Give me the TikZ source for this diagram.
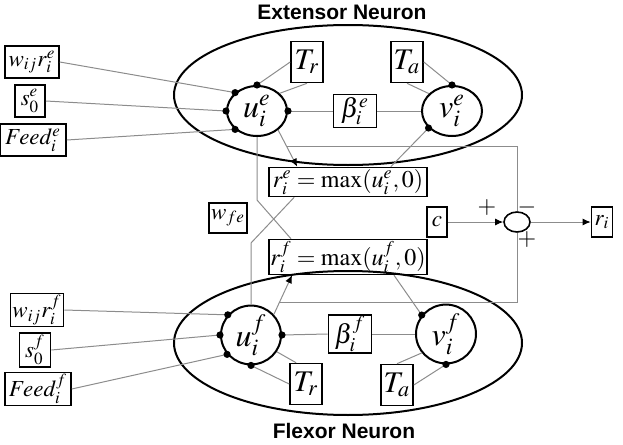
\documentclass[tikz,border=0pt]{standalone}
\usepackage{mathptmx}
\usepackage{fontspec}
\setmainfont{Liberation Serif}
\newfontfamily\titlefont{Liberation Sans}
\usepackage{tikz}
\usetikzlibrary{arrows.meta,shapes.geometric}
\tikzstyle{cell}=[ellipse,draw,line width=1pt,minimum width=174pt,inner sep=0pt]
\tikzstyle{neuron}=[ellipse,draw,line width=1pt,minimum width=30pt,minimum height=25pt,inner sep=0pt,font=\fontsize{16}{18}\selectfont]
\tikzstyle{param}=[rectangle,draw,line width=0.8pt,inner sep=0.8pt,minimum height=16pt,font=\fontsize{11.5}{13}\selectfont]
\tikzstyle{tbox}=[minimum width=16pt,minimum height=20.5pt,font=\fontsize{15}{17}\selectfont]
\tikzstyle{betabox}=[minimum width=21.5pt,minimum height=16.5pt,font=\fontsize{13.5}{15}\selectfont]
\tikzstyle{link}=[draw,black!45,line width=0.5pt]
\tikzstyle{head}=[-{Latex[length=4pt,width=3.5pt,color=black]}]
\tikzstyle{title}=[font=\titlefont\bfseries\fontsize{10.5}{12}\selectfont]
\tikzstyle{sign}=[font=\fontsize{12}{14}\selectfont,inner sep=0pt]

\begin{document}
\begin{tikzpicture}[x=0.5pt,y=-0.5pt]
    \useasboundingbox (0,0) rectangle (623,445);

    % the two cells
    \node[cell,minimum height=70pt] (cellE) at (348,95) {};
    \node[cell,minimum height=72pt] (cellF) at (348,343) {};
    \node[title] (titleE) at (342,12) {Extensor Neuron};
    \node[title] (titleF) at (344,431) {Flexor Neuron};

    \foreach \pos/\name/\txt in {{(257,111)/ue/u_i^e}, {(452,111)/ve/v_i^e}, {(251,335)/uf/u_i^f}, {(446,334)/vf/v_i^f}}
        \node[neuron] (\name) at \pos {$\txt$};

    \foreach \pos/\name/\txt in {{(307,62)/TrE/T_r}, {(407,62)/TaE/T_a}, {(306,384)/TrF/T_r}, {(397,385)/TaF/T_a}}
        \node[param,tbox] (\name) at \pos {$\txt$};
    \foreach \pos/\name/\txt in {{(355,111)/betaE/\beta_i^e}, {(350,334)/betaF/\beta_i^f}}
        \node[param,betabox] (\name) at \pos {$\txt$};

    % inputs
    \foreach \pos/\name/\w/\txt in {{(32,62)/wE/27/w_{ij}r_i^e}, {(30,101)/sE/15/s_0^e}, {(33,140)/feedE/33/Feed_i^e},
                                   {(37,310)/wF/26.5/w_{ij}r_i^f}, {(35,350)/sF/15.5/s_0^f}, {(38,389)/feedF/33/Feed_i^f}}
        \node[param,minimum width=\w pt] (\name) at \pos {$\txt$};

    \node[param,minimum width=79pt,minimum height=14.5pt,font=\fontsize{12}{14}\selectfont] (rE) at (348,182) {$r_i^e=\max(u_i^e,0)$};
    \node[param,minimum width=79pt,minimum height=15pt,font=\fontsize{12}{14}\selectfont] (rF) at (348,257) {$r_i^f=\max(u_i^f,0)$};
    \node[param,minimum width=19pt,minimum height=15pt] (wfe) at (228,218) {$w_{fe}$};
    \node[param,minimum width=10pt,minimum height=15pt] (c) at (437,222) {$c$};
    \node[param,minimum width=10.5pt,minimum height=15pt] (ri) at (602,222) {$r_i$};
    \node[ellipse,draw,line width=0.8pt,minimum width=13pt,minimum height=10pt,inner sep=0pt] (sum) at (517,222) {};

    \foreach \source/\dest in {wE/ue.140, sE/ue.180, feedE/ue.220, wF/uf.139, sF/uf.180, feedF/uf.219}
        \path[link] (\source.east) -- (\dest);

    \foreach \source/\dest in {TrE.west/ue.north, ue.38/TrE.south, TaE.east/ve.north, ve.143/TaE.south,
                               TrF.west/uf.south, uf.-33/TrF.115, TaF.east/vf.south, vf.218/TaF.north}
        \path[link] (\source) -- (\dest);

    \foreach \u/\b/\v in {ue/betaE/ve, uf/betaF/vf}
    {
        \path[link] (\u.east) -- (\b.west);
        \path[link] (\b.east) -- (\v.west);
    }

    \draw[link,head] (ue.-42) -- coordinate[pos=0.45] (tapE) ([xshift=14.5pt]rE.north west);
    \draw[link,head] (uf.42) -- coordinate[pos=0.31] (tapF) ([xshift=12pt]rF.south west);
    \draw[link] ([xshift=-18.5pt]rE.north east) -- (ve.216);
    \draw[link] ([xshift=-17pt]rF.south east) -- (vf.142);

    % crossed coupling
    \coordinate (bendE) at (257,200);
    \coordinate (bendF) at (251,243);
    \draw[link] (ue.south) -- (bendE) -- ([xshift=11.5pt]rF.north west);
    \draw[link] ([xshift=13pt]rE.south west) -- (bendF) -- (uf.north);

    \draw[link] (tapE) -| (sum.north);
    \draw[link] (tapF) -| (sum.south);
    \draw[link,head] (c) -- (sum);
    \draw[link,head] (sum) -- (ri);
    \node[sign] (plusC) at (487,208) {$+$};
    \node[sign] (minusE) at (527,207) {$-$};
    \node[sign] (plusF) at (527,240) {$+$};

    \foreach \a in {ue.140, ue.180, ue.220, ue.north, ue.east, ve.north, ve.216,
                    uf.139, uf.180, uf.219, uf.south, uf.east, vf.142, vf.south}
        \fill (\a) circle (1.8pt);

\end{tikzpicture}
\end{document}
